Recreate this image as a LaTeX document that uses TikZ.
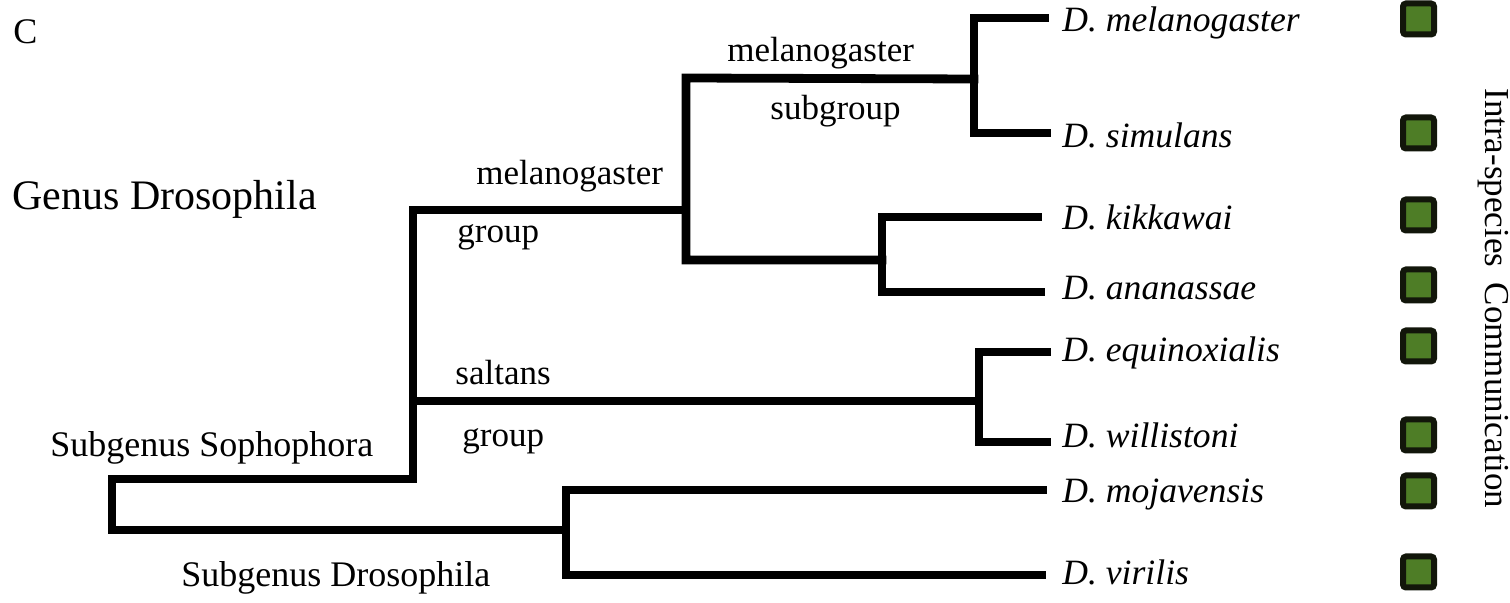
\documentclass[tikz,border=0pt]{standalone}
\usepackage{fontspec}
\setmainfont{Liberation Serif}
\definecolor{flaggreen}{RGB}{78,125,38}
\definecolor{flagedge}{RGB}{18,22,10}
\begin{document}
\begin{tikzpicture}[x=0.5pt,y=-0.5pt,
  branch/.style={line width=4.4pt, line cap=rect, line join=miter, black},
  lbl/.style={anchor=base west, inner sep=0pt, font=\fontsize{17.5}{21}\selectfont},
  sublbl/.style={lbl, font=\fontsize{18}{22}\selectfont},
  sp/.style={anchor=base west, inner sep=0pt, font=\fontsize{17.8}{21}\selectfont\itshape},
  flag/.style={draw=flagedge, fill=flaggreen, line width=3pt, minimum size=15.5pt,
               inner sep=0pt, rounded corners=1.5pt}]
\useasboundingbox (0,0) rectangle (1510,603);

% panel letter and clade titles
\node[anchor=base west, inner sep=0pt, font=\fontsize{18}{21}\selectfont] (panel) at (13,44) {C};
\node[anchor=base west, inner sep=0pt, font=\fontsize{21}{25}\selectfont] (genus) at (12,210) {Genus Drosophila};
\node[sublbl] (soph) at (50,457) {Subgenus Sophophora};
\node[sublbl] (dros) at (181,587) {Subgenus Drosophila};
\node[lbl] (msubA) at (727,62) {melanogaster};
\node[lbl] (msubB) at (770,120) {subgroup};
\node[lbl] (mgrpA) at (476,185) {melanogaster};
\node[lbl] (mgrpB) at (457,243) {group};
\node[lbl] (sgrpA) at (455,385) {saltans};
\node[lbl] (sgrpB) at (462,447) {group};

% internal nodes of the tree
\coordinate (rootA) at (112,479);
\coordinate (rootB) at (112,530);
\coordinate (sA) at (413,210);
\coordinate (sB) at (413,479);
\coordinate (sW) at (413,401);
\coordinate (vA) at (566,490);
\coordinate (vB) at (566,575);
\coordinate (vR) at (566,530);
\coordinate (mA) at (686,78);
\coordinate (mB) at (686,260);
\coordinate (mS) at (686,210);
\coordinate (msA) at (974,18);
\coordinate (msB) at (974,133);
\coordinate (msM) at (974,79);
\coordinate (kA) at (882,217);
\coordinate (kB) at (882,292);
\coordinate (kM) at (882,260);
\coordinate (wA) at (979,352);
\coordinate (wB) at (979,442);
\coordinate (wM) at (979,401);

% tips of the branches
\coordinate (e1) at (1045,18);
\coordinate (e2) at (1047,133);
\coordinate (e3) at (1038,217);
\coordinate (e4) at (1041,292);
\coordinate (e5) at (1047,352);
\coordinate (e6) at (1047,442);
\coordinate (e7) at (1043,490);
\coordinate (e8) at (1042,575);

% branches
\draw[branch] (sB) -- (rootA) -- (rootB) -- (vR);
\draw[branch] (mS) -- (sA) -- (sB);
\draw[branch] (sW) -- (wM);
\draw[branch] (e7) -- (vA) -- (vB) -- (e8);
\draw[branch] (msM) -- (mA) -- (mB) -- (kM);
\draw[branch] (e1) -- (msA) -- (msB) -- (e2);
\draw[branch] (e3) -- (kA) -- (kB) -- (e4);
\draw[branch] (e5) -- (wA) -- (wB) -- (e6);

% species names
\node[sp] (t1) at (1062,32)  {D. melanogaster};
\node[sp] (t2) at (1062,148) {D. simulans};
\node[sp] (t3) at (1062,230) {D. kikkawai};
\node[sp] (t4) at (1062,300) {D. ananassae};
\node[sp] (t5) at (1062,362) {D. equinoxialis};
\node[sp] (t6) at (1062,448) {D. willistoni};
\node[sp] (t7) at (1062,503) {D. mojavensis};
\node[sp] (t8) at (1062,585) {D. virilis};

% trait column
\node[flag] (f1) at (1418.5,19)  {};
\node[flag] (f2) at (1418.5,133) {};
\node[flag] (f3) at (1418.5,215) {};
\node[flag] (f4) at (1418.5,285) {};
\node[flag] (f5) at (1418.5,346) {};
\node[flag] (f6) at (1418.5,435) {};
\node[flag] (f7) at (1418.5,491) {};
\node[flag] (f8) at (1418.5,572) {};
\node[rotate=-90, anchor=base west, inner sep=0pt, font=\fontsize{17.5}{21}\selectfont]
  (trait) at (1485,88) {Intra-species\hspace{0.45em}Communication};
\end{tikzpicture}
\end{document}
